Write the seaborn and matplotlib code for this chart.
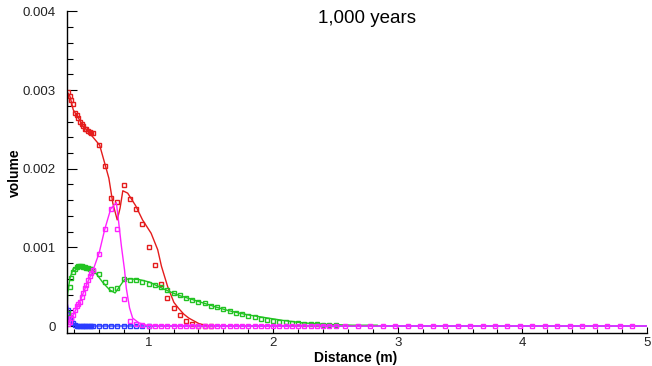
import matplotlib
matplotlib.use("Agg")
import matplotlib.pyplot as plt
import seaborn as sns
from matplotlib.ticker import MultipleLocator

# ---------------- data ----------------
# sample positions of the plotted points (m)
distance = [
    0.356, 0.369, 0.381, 0.395, 0.409, 0.422, 0.435, 0.448, 0.462, 0.475,
    0.488, 0.501, 0.514, 0.528, 0.541, 0.554,
    0.60, 0.65, 0.70, 0.75, 0.80, 0.85, 0.90, 0.95, 1.00, 1.05,
    1.10, 1.15, 1.20, 1.25, 1.30, 1.35, 1.40, 1.45, 1.50, 1.55,
    1.60, 1.65, 1.70, 1.75, 1.80, 1.85, 1.90, 1.95, 2.00, 2.05,
    2.10, 2.15, 2.20, 2.25, 2.30, 2.35, 2.40, 2.45, 2.50,
    2.58, 2.68, 2.78, 2.88, 2.98, 3.08, 3.18, 3.28, 3.38, 3.48,
    3.58, 3.68, 3.78, 3.88, 3.98, 4.08, 4.18, 4.28, 4.38, 4.48,
    4.58, 4.68, 4.78, 4.88,
]

red_pts = [
    0.00298, 0.00293, 0.00287, 0.00282, 0.00271, 0.00268, 0.00265, 0.00260,
    0.00257, 0.00254, 0.00251, 0.00250, 0.00248, 0.00247, 0.00246, 0.00245,
    0.00230, 0.00204, 0.00163, 0.00158, 0.00179, 0.00162, 0.00149, 0.00130,
    0.00100, 0.00077, 0.00054, 0.00036, 0.000225, 0.000135, 0.00006, 0.00002,
    0.000005, 0.0, 0.0,
]

green_pts = [
    0.00016, 0.00050, 0.00061, 0.00069, 0.00073, 0.00075, 0.00076, 0.00076,
    0.00076, 0.00075, 0.00075, 0.00074, 0.00074, 0.00073, 0.00072, 0.00070,
    0.00066, 0.00056, 0.00047, 0.00048, 0.00060, 0.00059, 0.00058, 0.00056,
    0.00054, 0.00052, 0.00049, 0.00046, 0.00042, 0.00039, 0.00036, 0.00033,
    0.00031, 0.00029, 0.00026, 0.00024, 0.00021, 0.00019, 0.00017, 0.00015,
    0.00013, 0.000112, 0.000095, 0.00008, 0.000066, 0.000055, 0.000046,
    0.000038, 0.000032, 0.000027, 0.000023, 0.00002, 0.000018, 0.000017,
    0.000016,
]

blue_pts = [
    0.00020, 0.00011, 0.00007, 0.00004, 0.00001, 0.0, 0.0, 0.0, 0.0, 0.0,
    0.0, 0.0, 0.0, 0.0, 0.0, 0.0, 0.0, 0.0, 0.0, 0.0,
    0.0, 0.0, 0.0, 0.0, 0.0,
]

magenta_pts = [
    0.00002, 0.00005, 0.00010, 0.00014, 0.00020, 0.00025, 0.00028, 0.00031,
    0.00037, 0.00042, 0.00048, 0.00052, 0.00059, 0.00063, 0.00067, 0.00071,
    0.00092, 0.00123, 0.00149, 0.00123, 0.00034, 0.00006, 0.00002, 0.00001,
    0.0, 0.0, 0.0, 0.0, 0.0, 0.0, 0.0, 0.0, 0.0, 0.0,
    0.0, 0.0, 0.0, 0.0, 0.0, 0.0, 0.0, 0.0, 0.0, 0.0,
    0.0, 0.0, 0.0, 0.0, 0.0, 0.0, 0.0, 0.0, 0.0, 0.0,
    0.0, 0.0, 0.0, 0.0, 0.0, 0.0, 0.0, 0.0, 0.0, 0.0,
    0.0, 0.0, 0.0, 0.0, 0.0, 0.0, 0.0, 0.0, 0.0, 0.0,
    0.0, 0.0, 0.0, 0.0, 0.0,
]

# model curves
red_line_x = [0.345, 0.350, 0.369, 0.395, 0.435, 0.475, 0.528, 0.607, 0.653,
              0.681, 0.713, 0.748, 0.771, 0.793, 0.832, 0.896, 0.951, 1.020,
              1.073, 1.103, 1.153, 1.203, 1.243, 1.283, 1.323, 1.404, 1.484]
red_line_y = [0.00250, 0.00297, 0.00292, 0.00275, 0.00265, 0.00254, 0.00245,
              0.00230, 0.00204, 0.00188, 0.00156, 0.00135, 0.00150, 0.00172,
              0.00169, 0.00153, 0.00135, 0.00118, 0.00097, 0.00076, 0.00050,
              0.00030, 0.00022, 0.00015, 0.00010, 0.00003, 0.0]

green_line_x = [0.345, 0.351, 0.369, 0.395, 0.435, 0.475, 0.528, 0.568, 0.634,
                0.687, 0.731, 0.766, 0.806, 0.846, 0.925, 1.005, 1.082, 1.165,
                1.242, 1.324, 1.404, 1.484, 1.564, 1.644, 1.724, 1.803, 1.884,
                1.962, 2.085, 2.235, 2.436, 2.636, 2.837]
green_line_y = [0.00014, 0.00042, 0.00061, 0.00073, 0.00076, 0.00076, 0.00073,
                0.00069, 0.00055, 0.00046, 0.00042, 0.00050, 0.00059, 0.00060,
                0.00059, 0.00056, 0.00050, 0.00044, 0.00039, 0.00035, 0.00031,
                0.00027, 0.00023, 0.000195, 0.000165, 0.00014, 0.00012, 0.00010,
                0.00007, 0.00004, 0.00002, 0.00001, 0.00001]

blue_line_x = [0.345, 0.356, 0.371, 0.391, 0.411, 0.431, 5.0]
blue_line_y = [0.00031, 0.00020, 0.00010, 0.00004, 0.00001, 0.0, 0.0]

magenta_line_x = [0.345, 0.351, 0.381, 0.395, 0.448, 0.501, 0.554, 0.603, 0.648,
                  0.696, 0.741, 0.754, 0.782, 0.807, 0.821, 0.847, 0.872, 0.922,
                  0.983, 1.083, 5.0]
magenta_line_y = [0.00070, 0.00003, 0.00010, 0.00014, 0.00031, 0.00052, 0.00071,
                  0.00093, 0.00123, 0.00149, 0.00157, 0.00140, 0.00101, 0.00071,
                  0.00048, 0.00023, 0.00010, 0.00004, 0.00001, 0.0, 0.0]

x_ticks = [1, 2, 3, 4, 5]
x_tick_labels = ["1", "2", "3", "4", "5"]
y_ticks = [0, 0.001, 0.002, 0.003, 0.004]
y_tick_labels = ["0", "0.001", "0.002", "0.003", "0.004"]

# ---------------- figure ----------------
sns.set_style("ticks")
plt.rcParams["font.family"] = ["Liberation Sans", "DejaVu Sans"]

W, H = 652, 366
fig = plt.figure(figsize=(W / 100, H / 100), dpi=100)
ax = fig.add_axes([67 / W, (H - 333) / H, 580 / W, 321.5 / H])

series = [
    ("#2a3cff", blue_line_x, blue_line_y, blue_pts),
    ("#e41c1c", red_line_x, red_line_y, red_pts),
    ("#22c322", green_line_x, green_line_y, green_pts),
    ("#ff22ff", magenta_line_x, magenta_line_y, magenta_pts),
]
for color, lx, ly, pts in series:
    sns.lineplot(x=lx, y=ly, ax=ax, color=color, linewidth=1.0,
                 estimator=None, sort=False, legend=False)
    sns.lineplot(x=distance[:len(pts)], y=pts, ax=ax, color=color,
                 linestyle="", marker="s", markersize=3.0,
                 markerfacecolor="none", markeredgecolor=color,
                 markeredgewidth=1.0, estimator=None, sort=False, legend=False)

ax.set_xlim(0.345, 5.0)
ax.set_ylim(-0.000089, 0.004)
ax.set_xticks(x_ticks, x_tick_labels)
ax.set_yticks(y_ticks, y_tick_labels)
ax.xaxis.set_minor_locator(MultipleLocator(0.2))
ax.yaxis.set_minor_locator(MultipleLocator(0.0002))

ax.tick_params(axis="x", which="major", direction="in", length=4.5, width=0.8,
               pad=3.0, labelsize=9.5, colors="black")
ax.tick_params(axis="x", which="minor", direction="in", length=3.0, width=0.8,
               colors="black")
ax.tick_params(axis="y", which="major", direction="in", length=7.2, width=0.8,
               pad=8.0, labelsize=9.5, colors="black")
ax.tick_params(axis="y", which="minor", direction="in", length=4.3, width=0.8,
               colors="black")
for lab in ax.get_xticklabels() + ax.get_yticklabels():
    lab.set_color("#222222")

sns.despine(ax=ax)
for s in ("left", "bottom"):
    ax.spines[s].set_color("black")
    ax.spines[s].set_linewidth(1.0)

ax.set_xlabel("Distance (m)", fontsize=10, fontweight="bold", color="black")
ax.xaxis.set_label_coords(0.497, -0.078)
ax.xaxis.label.set_va("center")
ax.set_ylabel("volume", fontsize=10, fontweight="bold", color="black")
ax.yaxis.set_label_coords(-0.089, 0.5)
ax.yaxis.label.set_va("center")

ax.text(0.517, 0.978, "1,000 years", transform=ax.transAxes, ha="center",
        va="center", fontsize=13.5, color="black")

fig.savefig("out.png", dpi=100)
